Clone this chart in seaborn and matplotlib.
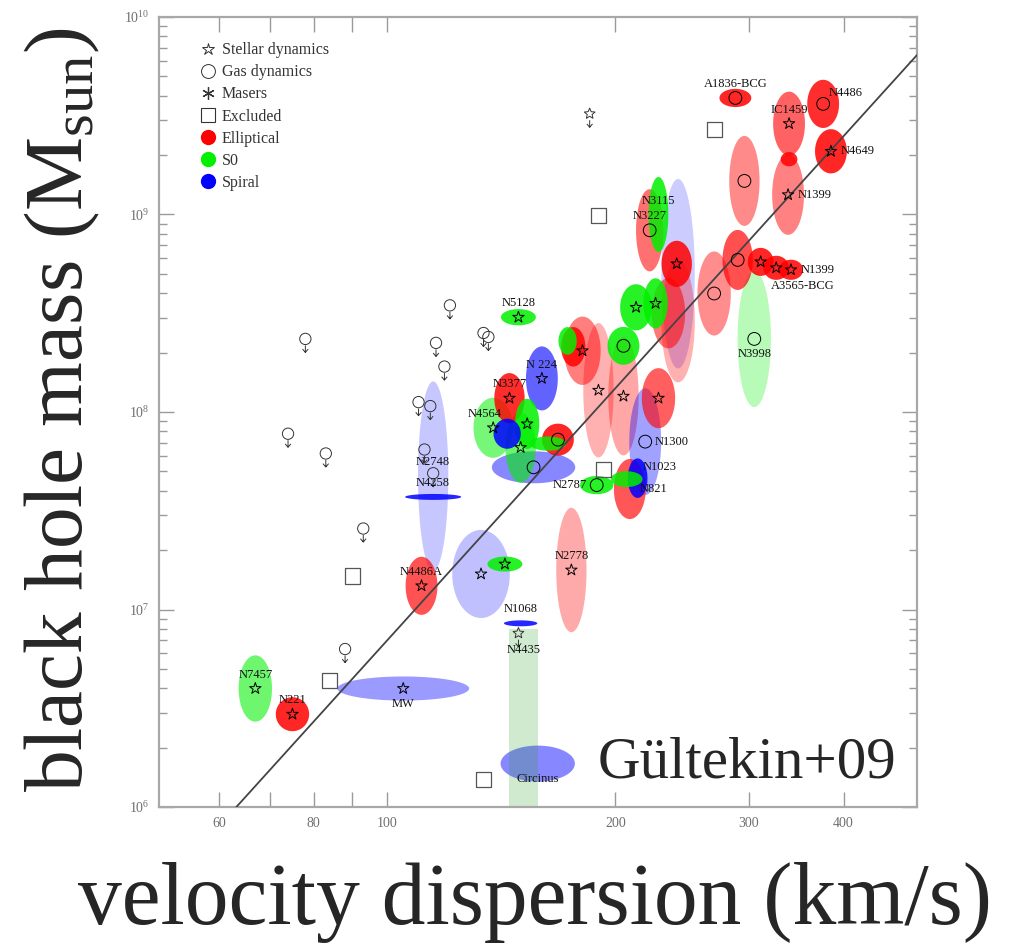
import numpy as np
import matplotlib
matplotlib.use('Agg')
import matplotlib.pyplot as plt
from matplotlib.lines import Line2D
from matplotlib.path import Path
from matplotlib.ticker import LogLocator, NullLocator, NullFormatter
import seaborn as sns

# M-sigma fit of Gultekin+09: log M = a + b log(sigma / 200 km/s)
fit_a, fit_b = 8.12, 4.24

# error ellipses: type, sigma [km/s], log M, half sizes in dex
ell_type = ['S0', 'E', 'Sp', 'E', 'Sp', 'S0', 'Sp', 'Sp', 'E', 'Sp',
            'Sp', 'S0', 'Sp', 'E', 'S0', 'Sp', 'S0', 'S0', 'E', 'Sp',
            'S0', 'E', 'E', 'S0', 'E', 'E', 'E', 'Sp', 'S0', 'E',
            'S0', 'S0', 'Sp', 'E', 'S0', 'Sp', 'E', 'E', 'E', 'S0',
            'S0', 'E', 'E', 'E', 'E', 'E', 'E', 'E', 'E', 'E',
            'E', 'E', 'E', 'S0']
ell_sigma = [67, 75, 105, 111, 133, 143, 150, 158, 175, 115,
             115, 138, 144, 145, 153, 156, 150, 163, 168, 160,
             149, 181, 176, 173, 190, 205, 228, 219, 205, 209,
             189, 207, 214, 222, 228, 242, 241, 235, 242, 213,
             226, 270, 290, 311, 326, 341, 296, 338, 339, 339,
             288, 376, 385, 305]
ell_logm = [6.60, 6.47, 6.60, 7.12, 7.18, 7.23, 6.93, 6.22, 7.20, 7.675,
            7.57, 7.92, 7.89, 8.07, 7.94, 7.72, 7.82, 7.84, 7.86, 8.17,
            8.48, 8.31, 8.33, 8.36, 8.11, 8.08, 8.07, 7.85, 8.335, 7.61,
            7.63, 7.66, 7.665, 8.92, 9.00, 8.70, 8.75, 8.50, 8.46, 8.53,
            8.55, 8.60, 8.77, 8.76, 8.73, 8.72, 9.17, 9.10, 9.46, 9.28,
            9.59, 9.56, 9.32, 8.37]
ell_dsig = [0.022, 0.022, 0.087, 0.021, 0.038, 0.023, 0.022, 0.049, 0.020, 0.020,
            0.037, 0.026, 0.018, 0.020, 0.016, 0.055, 0.020, 0.024, 0.021, 0.021,
            0.023, 0.024, 0.016, 0.012, 0.020, 0.020, 0.022, 0.021, 0.021, 0.021,
            0.022, 0.021, 0.013, 0.018, 0.013, 0.022, 0.020, 0.022, 0.022, 0.021,
            0.016, 0.022, 0.020, 0.017, 0.017, 0.016, 0.020, 0.021, 0.021, 0.011,
            0.021, 0.021, 0.021, 0.022]
ell_dlogm = [0.168, 0.086, 0.061, 0.147, 0.223, 0.038, 0.015, 0.091, 0.315, 0.48,
             0.015, 0.152, 0.076, 0.127, 0.127, 0.081, 0.178, 0.036, 0.081, 0.162,
             0.041, 0.173, 0.10, 0.07, 0.34, 0.30, 0.152, 0.27, 0.096, 0.152,
             0.046, 0.04, 0.10, 0.208, 0.19, 0.48, 0.117, 0.178, 0.31, 0.117,
             0.127, 0.213, 0.152, 0.071, 0.061, 0.051, 0.228, 0.203, 0.162, 0.036,
             0.046, 0.122, 0.112, 0.345]
ell_method = ['star', 'star', 'star', 'star', 'star', 'star', 'maser', 'maser', 'star', '',
              'maser', 'star', '', 'star', 'star', 'gas', 'star', '', 'gas', 'star',
              'star', 'star', '', '', 'star', 'star', 'star', 'gas', 'gas', '',
              'gas', '', '', 'gas', '', '', 'star', '', '', 'star',
              'star', 'gas', 'gas', 'star', 'star', 'star', 'gas', 'star', 'star', '',
              'gas', 'gas', 'star', 'gas']
ell_name = ['N7457', 'N221', 'MW', 'N4486A', '', '', 'N1068', 'Circinus', 'N2778', 'N2748',
            'N4258', 'N4564', '', 'N3377', '', '', '', '', '', 'N 224',
            'N5128', '', '', '', '', '', '', 'N1300', '', 'N821',
            'N2787', '', 'N1023', 'N3227', 'N3115', '', '', '', '', '',
            '', '', '', '', 'A3565-BCG', 'N1399', '', 'N1399', 'IC1459', '',
            'A1836-BCG', 'N4486', 'N4649', 'N3998']
# where each name sits relative to its ellipse
ell_name_pos = ['a', 'a', 'b', 'a', '', '', 'a', 'b', 'a', 'a',
                'a', 'al', '', 'a', '', '', '', '', '', 'a',
                'a', '', '', '', '', '', '', 'r', '', 'r',
                'l', '', 'ar', 'a', 'a', '', '', '', '', '',
                '', '', '', '', 'br', 'r', '', 'r', 'a', '',
                'a', 'ar', 'r', 'b']

# N4435: band reaching below the plot
band_sigma = [145, 158]
band_top = 6.90

# upper limits (gas = circle, star = stellar dynamics)
ul_sigma = [78, 74, 83, 93, 88, 121, 116, 119, 134, 136, 110, 114, 112, 115, 185, 149]
ul_logm = [8.37, 7.89, 7.79, 7.41, 6.80, 8.54, 8.35, 8.23, 8.40, 8.38, 8.05, 8.03, 7.81, 7.69, 9.51, 6.88]
ul_method = ['gas'] * 14 + ['star', 'star']

# excluded objects
ex_sigma = [270, 190, 193, 90, 84, 134]
ex_logm = [9.43, 8.995, 7.71, 7.17, 6.64, 6.14]

type_color = {'E': '#ff0000', 'S0': '#00f000', 'Sp': '#0000ff'}

sns.set_theme(style='ticks')
plt.rcParams['font.family'] = ['Liberation Serif', 'DejaVu Serif']
plt.rcParams['mathtext.fontset'] = 'custom'
plt.rcParams['mathtext.rm'] = 'Liberation Serif'
plt.rcParams['mathtext.it'] = 'Liberation Serif:italic'

fig = plt.figure(figsize=(10.1, 9.43), dpi=100)
ax = fig.add_axes([0.1574, 0.1442, 0.7505, 0.8378])
ax.set_xscale('log')
ax.set_yscale('log')
ax.set_xlim(50, 500)
ax.set_ylim(1e6, 1e10)

# ellipses, faint (large) ones first
t = np.linspace(0, 2 * np.pi, 120)
area = np.array(ell_dsig) * np.array(ell_dlogm)
for i in np.argsort(-area):
    xs = 10 ** (np.log10(ell_sigma[i]) + ell_dsig[i] * np.cos(t))
    ys = 10 ** (ell_logm[i] + ell_dlogm[i] * np.sin(t))
    alpha = float(np.clip(0.0021 / area[i], 0.2, 0.85))
    ax.fill(xs, ys, color=type_color[ell_type[i]], alpha=alpha, lw=0, zorder=1)

ax.fill_between(band_sigma, [1e5, 1e5], [10 ** band_top] * 2,
                color='#2ca02c', alpha=0.22, lw=0, zorder=1)

# fitted relation
sig_line = np.geomspace(50, 500, 60)
sns.lineplot(x=sig_line, y=10 ** (fit_a + fit_b * np.log10(sig_line / 200)),
             color='#444444', lw=1.3, ax=ax, zorder=3)

# markers
star_path = Path.unit_regular_star(5, 0.45)
arrow = Path([(0, -1.15), (0, -2.4), (-0.5, -1.8), (0, -2.4), (0.5, -1.8)],
             [Path.MOVETO, Path.LINETO, Path.MOVETO, Path.LINETO, Path.LINETO])
ul_marker = {'gas': Path.make_compound_path(Path.unit_circle(), arrow),
             'star': Path.make_compound_path(star_path, arrow)}
pt_marker = {'star': '*', 'gas': 'o', 'maser': (6, 2, 0)}
pt_size = {'star': 75, 'gas': 85, 'maser': 60}

sig = np.array(ell_sigma)
lm = np.array(ell_logm)
meth = np.array(ell_method)
for m in ['star', 'gas', 'maser']:
    sel = meth == m
    sns.scatterplot(x=sig[sel], y=10 ** lm[sel], marker=pt_marker[m], s=pt_size[m],
                    facecolors='none', edgecolor='black', linewidth=0.7, ax=ax,
                    zorder=4, legend=False)

usig = np.array(ul_sigma)
ulm = np.array(ul_logm)
umeth = np.array(ul_method)
for m in ['gas', 'star']:
    sel = umeth == m
    sns.scatterplot(x=usig[sel], y=10 ** ulm[sel], marker=ul_marker[m], s=380,
                    facecolors='none', edgecolor='#333333', linewidth=0.7, ax=ax,
                    zorder=4, legend=False)

sns.scatterplot(x=ex_sigma, y=10 ** np.array(ex_logm), marker='s', s=120,
                facecolors='none', edgecolor='#555555', linewidth=0.9, ax=ax,
                zorder=4, legend=False)

# galaxy names
offs = {'a': ((0, 10), 'center'), 'b': ((0, -11), 'center'), 'r': ((7, 0), 'left'),
        'l': ((-7, 0), 'right'), 'al': ((-6, 10), 'center'), 'ar': ((4, 8), 'left'),
        'br': ((-4, -13), 'left')}
for i, name in enumerate(ell_name):
    if not name:
        continue
    off, ha = offs[ell_name_pos[i]]
    ax.annotate(name, (ell_sigma[i], 10 ** ell_logm[i]), xytext=off,
                textcoords='offset points', ha=ha, va='center', fontsize=9,
                color='#111111', zorder=5)
ax.annotate('N4435', (np.sqrt(band_sigma[0] * band_sigma[1]), 10 ** band_top),
            xytext=(0, -15), textcoords='offset points', ha='center', va='center',
            fontsize=9, color='#111111', zorder=5)

# axes styling
ax.set_xticks([60, 70, 80, 90, 100, 200, 300, 400])
ax.set_xticklabels(['60', '', '80', '', '100', '200', '300', '400'])
ax.xaxis.set_minor_locator(NullLocator())
ax.set_yticks([1e6, 1e7, 1e8, 1e9, 1e10])
ax.set_yticklabels([r'$10^{6}$', r'$10^{7}$', r'$10^{8}$', r'$10^{9}$', r'$10^{10}$'])
ax.yaxis.set_minor_locator(LogLocator(base=10, subs=np.arange(2, 10)))
ax.yaxis.set_minor_formatter(NullFormatter())
ax.tick_params(which='both', direction='in', top=True, right=True, color='#9a9a9a',
               labelcolor='#6f6f6f', labelsize=10, width=1.0)
ax.tick_params(which='major', length=11, pad=7)
ax.tick_params(which='minor', length=5.5)
for sp in ax.spines.values():
    sp.set_color('#a8a8a8')
    sp.set_linewidth(1.6)

handles = [
    Line2D([], [], ls='none', marker='*', ms=9, mfc='none', mec='#333333', mew=0.7),
    Line2D([], [], ls='none', marker='o', ms=10, mfc='none', mec='#333333', mew=0.7),
    Line2D([], [], ls='none', marker=(6, 2, 0), ms=9, mec='#333333', mew=0.9),
    Line2D([], [], ls='none', marker='s', ms=10, mfc='none', mec='#333333', mew=0.8),
    Line2D([], [], ls='none', marker='o', ms=11, mfc='#ff0000', mec='none'),
    Line2D([], [], ls='none', marker='o', ms=11, mfc='#00f000', mec='none'),
    Line2D([], [], ls='none', marker='o', ms=11, mfc='#0000ff', mec='none'),
]
labels = ['Stellar dynamics', 'Gas dynamics', 'Masers', 'Excluded', 'Elliptical', 'S0', 'Spiral']
leg = ax.legend(handles, labels, loc='upper left', bbox_to_anchor=(0.043, 0.978),
                frameon=False, fontsize=11.5, handlelength=1.0, handletextpad=0.4,
                labelspacing=0.38, borderpad=0)
for txt in leg.get_texts():
    txt.set_color('#333333')

ax.set_xlabel('')
ax.set_ylabel('')
fig.text(0.062, 0.566, r'black hole mass (M$_{\mathrm{sun}}$)', rotation=90,
         ha='center', va='center', fontsize=60)
fig.text(0.530, 0.043, 'velocity dispersion (km/s)', ha='center', va='center', fontsize=63)
fig.text(0.592, 0.175, 'Gültekin+09', ha='left', va='baseline', fontsize=42.5)

fig.savefig('out.png', dpi=100)
